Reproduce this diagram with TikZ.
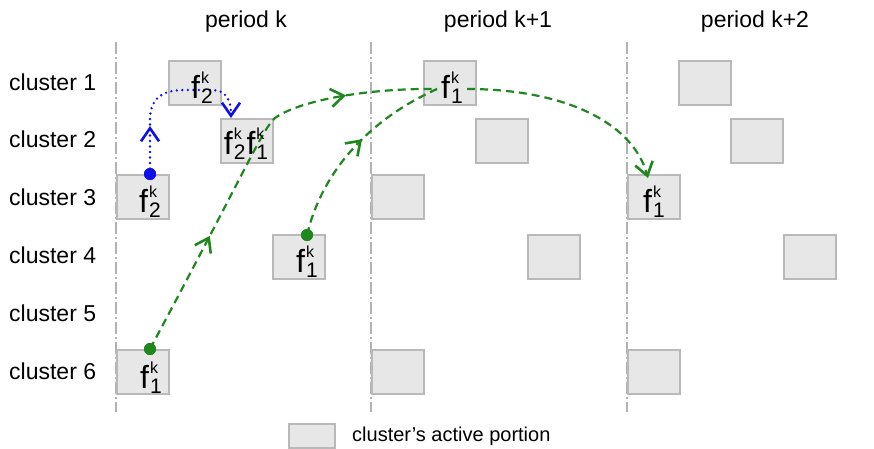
\documentclass[tikz,border=0pt]{standalone}
\usepackage{fontspec}
\setmainfont{Liberation Sans}
\usetikzlibrary{arrows.meta,decorations.markings}
\definecolor{boxfill}{RGB}{231,231,231}
\definecolor{boxdraw}{RGB}{185,185,185}
\definecolor{sepgray}{RGB}{178,178,178}
\definecolor{flowgreen}{RGB}{30,135,30}
\definecolor{flowblue}{RGB}{15,15,235}
\newcommand{\fl}[2]{f\kern1pt\rlap{\raisebox{15pt}{\fontsize{16}{16}\selectfont #2}}\raisebox{-5pt}{\fontsize{21}{21}\selectfont #1}}
\tikzset{
  active/.style={draw=boxdraw, fill=boxfill, line width=2pt, minimum width=52pt, minimum height=44pt, inner sep=0pt, anchor=north west},
  sepline/.style={draw=sepgray, line width=2pt, dash pattern=on 12pt off 3pt on 2pt off 3pt},
  lbl/.style={font=\fontsize{23}{23}\selectfont, inner sep=0pt},
  ftext/.style={font=\fontsize{32}{32}\selectfont, inner sep=0pt},
  dotnode/.style={circle, inner sep=0pt, minimum size=12pt},
  greendash/.style={draw=flowgreen, line width=2.2pt, dash pattern=on 8pt off 5pt},
  bluedots/.style={draw=flowblue, line width=2.6pt, line cap=round, dash pattern=on 0pt off 5.5pt},
  vtip/.tip={Straight Barb[length=13pt,width=18pt,line width=2.6pt]},
  midarrow/.style={postaction={decorate, decoration={markings, mark=at position #1 with {\arrow{vtip}}}}}
}
\begin{document}
\begin{tikzpicture}[x=1pt,y=-1pt]
\useasboundingbox (0,0) rectangle (874,449);
% period separators
\foreach \P/\n in {116/0,371/1,627/2} {
  \coordinate (st\n) at (\P,42);
  \coordinate (sb\n) at (\P,412);
  \draw[sepline] (st\n) -- (sb\n);
}
% period labels
\node[lbl] (pk0) at (246,22) {period k};
\node[lbl] (pk1) at (498,22) {period k+1};
\node[lbl] (pk2) at (755,22) {period k+2};
% cluster labels
\foreach \c/\y in {1/82,2/139,3/197,4/255,5/313,6/371} {
  \node[lbl, anchor=west] (cl\c) at (9,\y) {cluster \c};
}
% active portions
\foreach \P/\n in {116/0,371/1,626.5/2} {
  \node[active] (b\n-1) at ({\P+51.5},60) {};
  \node[active] (b\n-2) at ({\P+103.5},118) {};
  \node[active] (b\n-3) at (\P,174) {};
  \node[active] (b\n-4) at ({\P+156},234) {};
  \node[active] (b\n-6) at (\P,349) {};
}
% dots
\node[dotnode, fill=flowblue] (d3) at (150,174) {};
\node[dotnode, fill=flowgreen] (d6) at (150,349) {};
\node[dotnode, fill=flowgreen] (d4) at (307,235) {};
% connector endpoints
\coordinate (e1) at (231,118);
\coordinate (e2) at (437,89);
\coordinate (s3) at (467,89);
\coordinate (e3) at (648,178);
% flows
\draw[bluedots, midarrow=48pt, -vtip] (d3.center) -- (150,120) .. controls (150,96) and (165,90) .. (185,90) -- (212,90) .. controls (226,90) and (231,100) .. (e1);
\draw[greendash, midarrow=128pt, midarrow=338pt] (d6.center) .. controls (250,162) and (262,130) .. (275,118) .. controls (300,100) and (370,88) .. (e2);
\draw[greendash, midarrow=112pt] (d4.center) .. controls (322,172) and (368,120) .. (e2);
\draw[greendash, -vtip] (s3) .. controls (560,89) and (632,120) .. (e3);
% texts in boxes
\node[ftext] (t1) at (202,88) {\fl{2}{k}};
\node[ftext] (t2) at (246,144) {\fl{2}{k}\kern1pt\fl{1}{k}};
\node[ftext] (t3) at (150,202) {\fl{2}{k}};
\node[ftext] (t4) at (307,262) {\fl{1}{k}};
\node[ftext] (t6) at (151,378) {\fl{1}{k}};
\node[ftext] (t7) at (452,88) {\fl{1}{k}};
\node[ftext] (t8) at (654,202) {\fl{1}{k}};
% redraw dots on top
\node[dotnode, fill=flowblue] at (d3) {};
\node[dotnode, fill=flowgreen] at (d6) {};
\node[dotnode, fill=flowgreen] at (d4) {};
% legend
\node[active, minimum width=46pt, minimum height=24pt] (leg) at (288,423) {};
\node[inner sep=0pt, anchor=west, font=\fontsize{20}{20}\selectfont] (legt) at (352,436) {cluster’s active portion};
\end{tikzpicture}
\end{document}
